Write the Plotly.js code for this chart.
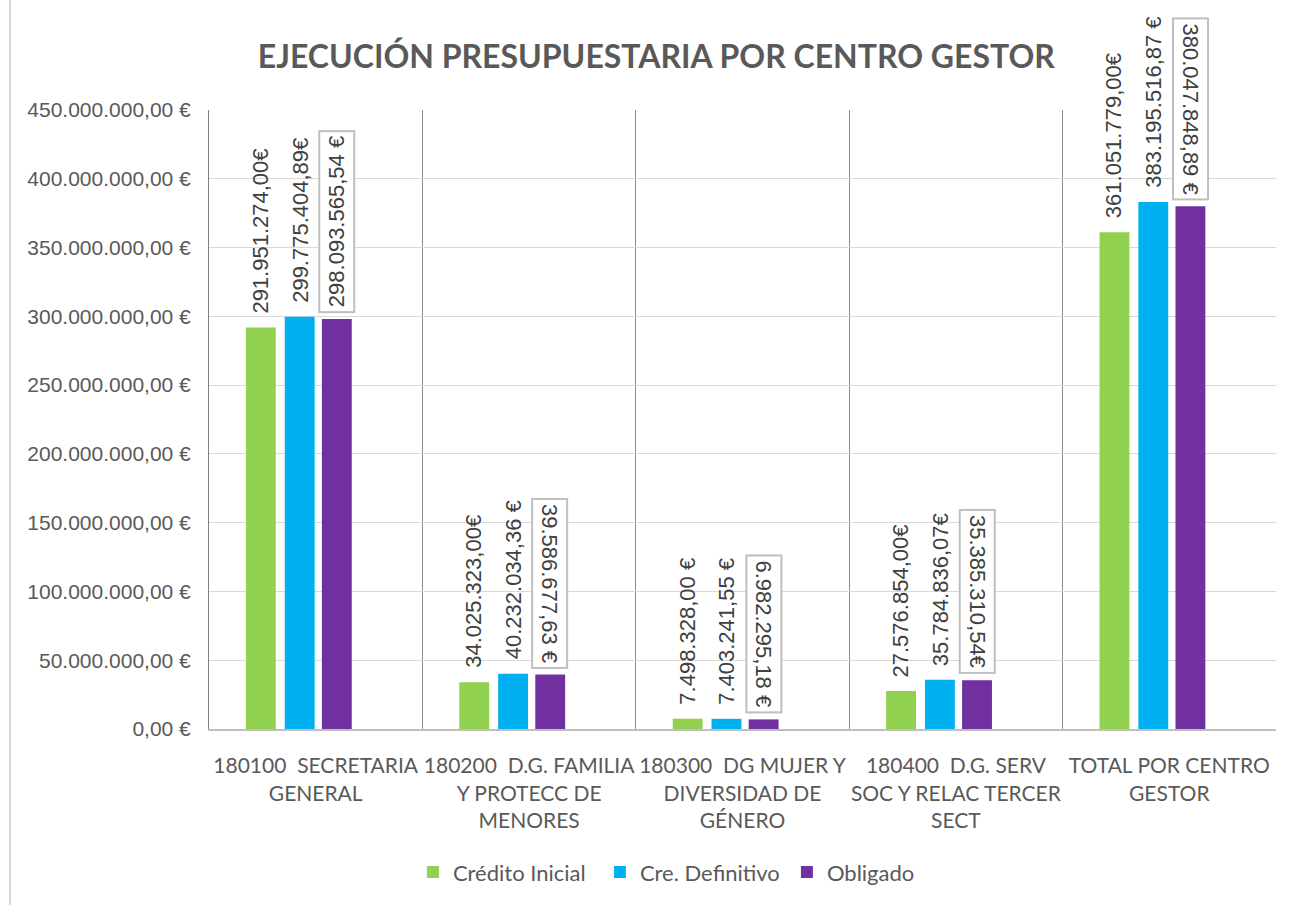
<!DOCTYPE html>
<html>
<head>
<meta charset="utf-8">
<script src="https://cdn.plot.ly/plotly-3.0.1.min.js"></script>
<style>
html,body{margin:0;padding:0;background:#fff;}
#chart{position:absolute;left:0;top:0;width:1292px;height:905px;}
#frame{position:absolute;left:9px;top:0;width:0;height:905px;border-left:2px solid #d9d9d9;pointer-events:none;}
</style>
</head>
<body>
<div id="chart"></div>
<div id="frame"></div>
<script>
// ---- data ----
const categories = [
  "180100  SECRETARIA<br>GENERAL",
  "180200  D.G. FAMILIA<br>Y PROTECC DE<br>MENORES",
  "180300  DG MUJER Y<br>DIVERSIDAD DE<br>GÉNERO",
  "180400  D.G. SERV<br>SOC Y RELAC TERCER<br>SECT",
  "TOTAL POR CENTRO<br>GESTOR"
];
const seriesNames = ["Crédito Inicial", "Cre. Definitivo", "Obligado"];
const creditoInicial = [291951274.00, 34025323.00, 7498328.00, 27576854.00, 361051779.00];
const creDefinitivo  = [299775404.89, 40232034.36, 7403241.55, 35784836.07, 383195516.87];
const obligado       = [298093565.54, 39586677.63, 6982295.18, 35385310.54, 380047848.89];
const labelsInicial    = ["291.951.274,00€", "34.025.323,00€", "7.498.328,00 €", "27.576.854,00€", "361.051.779,00€"];
const labelsDefinitivo = ["299.775.404,89€", "40.232.034,36 €", "7.403.241,55 €", "35.784.836,07€", "383.195.516,87 €"];
const labelsObligado   = ["298.093.565,54 €", "39.586.677,63 €", "6.982.295,18 €", "35.385.310,54€", "380.047.848,89 €"];

// ---- styling ----
const colors = ["#92D050", "#00B0F0", "#7030A0"];
const barWidth = 0.14;
const offsets = [-0.327, -0.145, 0.029];
const pxShift = [-55, -16, 21];
const labelFont = {family: "Liberation Sans, Arial, sans-serif", size: 22, color: "#404040"};

const allValues = [creditoInicial, creDefinitivo, obligado];
const allLabels = [labelsInicial, labelsDefinitivo, labelsObligado];

const traces = allValues.map((vals, i) => ({
  type: "bar",
  name: seriesNames[i],
  x: categories,
  y: vals,
  width: barWidth,
  offset: offsets[i],
  marker: {color: colors[i]},
  hoverinfo: "x+y+name"
}));

const annotations = [];
allValues.forEach((vals, i) => {
  vals.forEach((v, j) => {
    const boxed = (i === 2);
    annotations.push({
      x: categories[j],
      y: v,
      xref: "x",
      yref: "y",
      text: allLabels[i][j],
      showarrow: false,
      textangle: (boxed && j > 0) ? 90 : -90,
      xanchor: "center",
      yanchor: "bottom",
      xshift: pxShift[i],
      yshift: boxed ? 6 : 14,
      font: labelFont,
      bordercolor: boxed ? "#bfbfbf" : "rgba(0,0,0,0)",
      borderwidth: boxed ? 2 : 0,
      borderpad: boxed ? 4 : 0,
      bgcolor: boxed ? "#ffffff" : "rgba(0,0,0,0)"
    });
  });
});

const layout = {
  width: 1292,
  height: 905,
  paper_bgcolor: "rgba(0,0,0,0)",
  plot_bgcolor: "#ffffff",
  margin: {l: 209, r: 16, t: 110, b: 173},
  separators: ",.",
  title: {
    text: "<b>EJECUCIÓN PRESUPUESTARIA POR CENTRO GESTOR</b>",
    font: {family: "Lato, Open Sans, sans-serif", size: 32, color: "#595959"},
    x: 0.508, xref: "container", xanchor: "center",
    y: 0.937, yref: "container", yanchor: "middle"
  },
  xaxis: {
    type: "category",
    tickson: "boundaries",
    showgrid: true,
    gridcolor: "#8c8c8c",
    gridwidth: 1,
    showline: true,
    linecolor: "#bfbfbf",
    linewidth: 2,
    mirror: false,
    ticks: "",
    tickangle: 0,
    automargin: false,
    ticklabelstandoff: 17,
    tickfont: {family: "Lato, Open Sans, sans-serif", size: 21, color: "#595959"},
    fixedrange: true
  },
  yaxis: {
    range: [0, 450000000],
    dtick: 50000000,
    tickformat: ",.2f",
    ticksuffix: " €",
    showgrid: true,
    gridcolor: "#d9d9d9",
    gridwidth: 1,
    zeroline: false,
    showline: true,
    linecolor: "#7f7f7f",
    linewidth: 1,
    ticks: "",
    ticklabelstandoff: 13,
    tickfont: {family: "Liberation Sans, Arial, sans-serif", size: 21, color: "#595959"},
    fixedrange: true
  },
  legend: {
    orientation: "h",
    x: 0.454, xanchor: "center",
    y: -0.2315, yanchor: "middle",
    font: {family: "Lato, Open Sans, sans-serif", size: 22, color: "#595959"},
    entrywidth: 142,
    entrywidthmode: "pixels",
    itemclick: false
  },
  showlegend: true,
  annotations: annotations
};

Plotly.newPlot("chart", traces, layout, {displayModeBar: false, staticPlot: true});
</script>
</body>
</html>
